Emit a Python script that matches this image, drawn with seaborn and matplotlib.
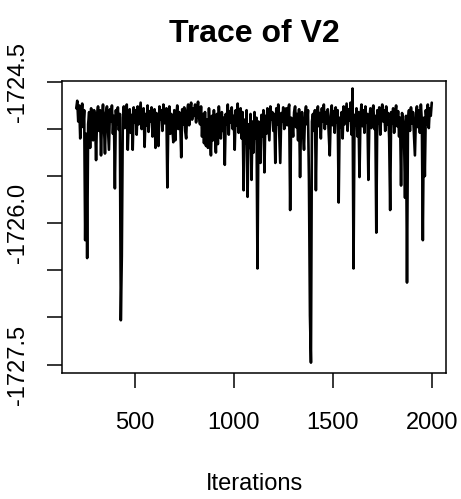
import numpy as np
import seaborn as sns
import matplotlib
matplotlib.use("Agg")
import matplotlib.pyplot as plt

# MCMC draws of V2, one value read every 5 iterations (205 .. 2000)
iterations = np.arange(205, 2001, 5)
v2 = [
    -1724.78, -1724.70, -1724.92, -1724.75, -1725.10, -1724.86, -1724.73, -1724.98, -1724.80, -1726.18,
    -1725.05, -1726.37, -1724.95, -1724.82, -1725.20, -1724.78, -1724.94, -1725.12, -1724.80, -1724.90,
    -1725.33, -1724.85, -1724.76, -1725.02, -1724.80, -1725.28, -1724.88, -1724.74, -1724.97, -1725.26,
    -1724.83, -1724.76, -1725.00, -1725.22, -1724.79, -1724.92, -1724.75, -1725.05, -1724.86, -1725.63,
    -1724.80, -1724.95, -1724.77, -1725.01, -1724.84, -1727.03, -1726.35, -1724.88, -1724.76, -1724.99,
    -1724.82, -1724.74, -1725.22, -1724.90, -1724.79, -1725.04, -1724.85, -1725.22, -1724.77, -1724.93,
    -1724.80, -1725.06, -1724.76, -1724.95, -1724.83, -1724.72, -1725.00, -1724.86, -1724.78, -1725.19,
    -1724.84, -1724.96, -1724.75, -1725.03, -1724.81, -1724.92, -1724.77, -1725.08, -1724.87, -1724.79,
    -1725.20, -1724.83, -1724.97, -1725.18, -1724.76, -1724.90, -1724.80, -1725.02, -1724.74, -1724.94,
    -1724.82, -1724.78, -1725.62, -1724.88, -1724.76, -1725.05, -1724.84, -1724.97, -1725.14, -1724.80,
    -1725.12, -1724.86, -1724.75, -1725.00, -1724.82, -1724.93, -1725.30, -1724.79, -1724.95, -1724.77,
    -1725.02, -1725.10, -1724.81, -1724.74, -1724.96, -1724.80, -1724.72, -1724.90, -1724.78, -1724.86,
    -1724.74, -1724.93, -1724.79, -1724.71, -1724.88, -1724.95, -1724.76, -1725.08, -1724.84, -1725.15,
    -1724.82, -1725.18, -1724.90, -1725.20, -1724.78, -1725.06, -1725.28, -1724.86, -1725.12, -1724.80,
    -1725.05, -1725.25, -1724.84, -1725.16, -1724.76, -1724.98, -1725.10, -1724.82, -1725.02, -1724.88,
    -1725.38, -1724.84, -1724.95, -1724.74, -1725.06, -1724.81, -1724.93, -1724.77, -1725.00, -1724.86,
    -1725.22, -1724.80, -1724.96, -1724.73, -1725.04, -1724.85, -1724.78, -1725.10, -1724.82, -1725.65,
    -1724.90, -1725.15, -1724.80, -1725.72, -1724.95, -1725.20, -1724.84, -1725.54, -1724.92, -1725.25,
    -1724.82, -1725.10, -1724.88, -1726.48, -1724.92, -1725.18, -1725.36, -1724.85, -1725.08, -1724.80,
    -1725.46, -1724.86, -1725.05, -1724.78, -1724.95, -1725.12, -1724.76, -1724.90, -1724.82, -1725.02,
    -1724.84, -1725.36, -1724.78, -1724.95, -1724.74, -1725.06, -1725.36, -1724.83, -1724.92, -1724.77,
    -1725.00, -1724.85, -1724.78, -1724.96, -1724.80, -1724.74, -1725.86, -1724.88, -1724.95, -1725.08,
    -1724.82, -1724.76, -1724.98, -1724.84, -1725.12, -1724.79, -1725.51, -1724.90, -1724.82, -1725.04,
    -1725.22, -1724.85, -1724.76, -1724.95, -1724.80, -1725.55, -1726.98, -1727.48, -1724.92, -1724.84,
    -1725.02, -1724.80, -1725.65, -1724.88, -1724.76, -1724.97, -1724.83, -1725.10, -1724.78, -1724.92,
    -1724.74, -1725.00, -1724.82, -1724.94, -1724.79, -1725.06, -1725.28, -1724.86, -1724.75, -1724.96,
    -1724.81, -1725.04, -1724.77, -1724.93, -1724.80, -1725.78, -1724.88, -1724.98, -1724.82, -1725.10,
    -1724.76, -1724.95, -1724.84, -1724.73, -1725.02, -1724.79, -1724.91, -1724.72, -1725.06, -1724.57,
    -1726.48, -1724.85, -1724.96, -1724.78, -1725.08, -1724.82, -1725.51, -1724.88, -1724.74, -1724.97,
    -1724.80, -1725.04, -1724.76, -1724.93, -1724.84, -1725.54, -1724.90, -1724.78, -1724.99, -1724.82,
    -1724.75, -1725.00, -1724.86, -1726.10, -1724.80, -1724.94, -1724.77, -1725.06, -1724.84, -1724.74,
    -1724.92, -1724.80, -1725.02, -1724.76, -1724.95, -1724.83, -1725.10, -1725.86, -1724.82, -1724.94,
    -1724.78, -1725.04, -1724.84, -1724.75, -1724.97, -1724.81, -1725.08, -1724.88, -1725.60, -1724.83,
    -1724.92, -1725.06, -1725.73, -1724.86, -1726.63, -1724.90, -1724.80, -1725.02, -1724.77, -1724.94,
    -1724.82, -1725.06, -1725.28, -1724.85, -1724.76, -1724.98, -1724.80, -1725.04, -1724.74, -1724.92,
    -1726.18, -1724.88, -1725.50, -1724.80, -1724.95, -1724.74, -1724.99, -1724.78, -1724.86, -1724.72,
]

x_ticks = [500, 1000, 1500, 2000]
y_ticks = [-1727.5, -1727.0, -1726.5, -1726.0, -1725.5, -1725.0, -1724.5]
y_tick_labels = ["-1727.5", "", "", "-1726.0", "", "", "-1724.5"]


def main():
    sns.set_style("ticks")
    plt.rcParams["font.family"] = ["Liberation Sans", "DejaVu Sans"]
    plt.rcParams["text.color"] = "black"
    plt.rcParams["axes.labelcolor"] = "black"

    fig = plt.figure(figsize=(4.61, 4.99), dpi=100)
    ax = fig.add_axes([0.1345, 0.2525, 0.833, 0.5852])

    sns.lineplot(x=iterations, y=v2, color="black", linewidth=1.9, ax=ax)

    ax.set_xlim(133, 2072)
    ax.set_ylim(-1727.59, -1724.49)
    ax.set_xticks(x_ticks)
    ax.set_xticklabels([str(t) for t in x_ticks])
    ax.set_yticks(y_ticks)
    ax.set_yticklabels(y_tick_labels, rotation=90, va="center")

    ax.tick_params(axis="both", labelsize=17, length=11, width=1.1,
                   color="black", labelcolor="black")
    ax.tick_params(axis="x", pad=17)
    ax.tick_params(axis="y", pad=13)
    for side in ["top", "right", "bottom", "left"]:
        ax.spines[side].set_visible(True)
        ax.spines[side].set_linewidth(1.1)
        ax.spines[side].set_color("black")

    ax.set_xlabel("Iterations", fontsize=17, labelpad=28, color="black")
    ax.set_ylabel("")
    ax.set_title("Trace of V2", fontsize=23, fontweight="bold", pad=28,
                 color="black")

    fig.savefig("out.png", dpi=100)


if __name__ == "__main__":
    main()
